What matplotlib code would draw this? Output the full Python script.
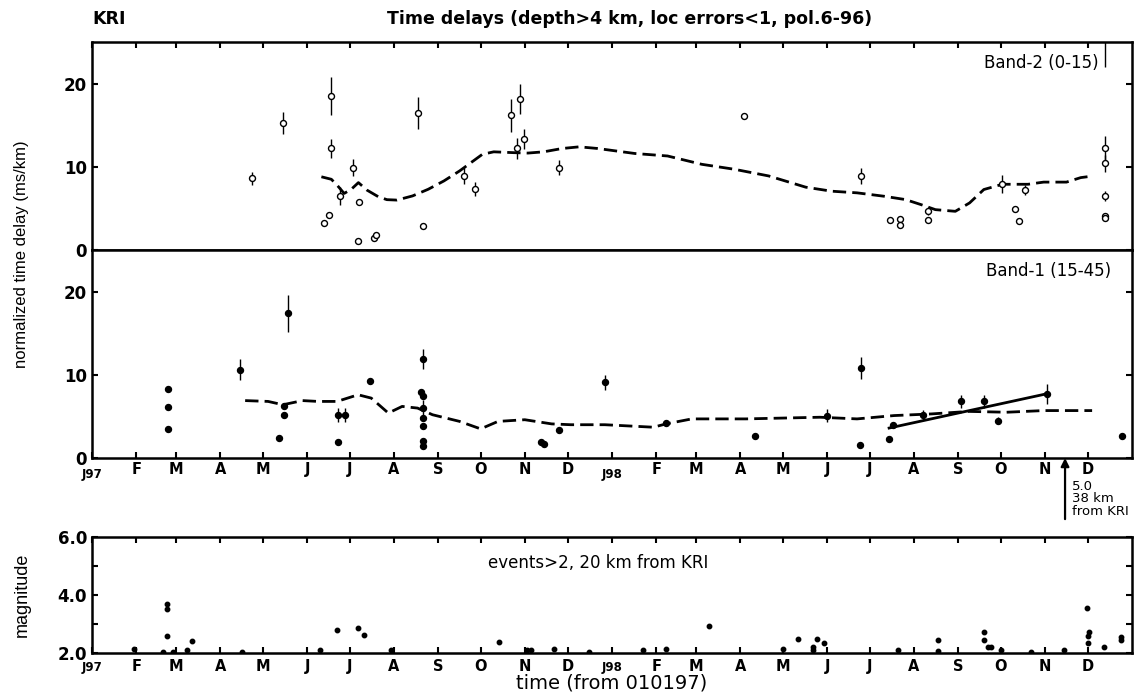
import numpy as np
import matplotlib
matplotlib.use("Agg")
import matplotlib.pyplot as plt
from datetime import date

plt.rcParams['font.family'] = ['DejaVu Sans']

# ---- data (time in days from 01/01/97) ----
# Band-2 (0-15 km) normalized time delays: day, value, error
band2_day = [112, 134, 162.6, 166.7, 167.5, 168, 174, 183, 187, 187.6, 197.6, 199.5,
             229, 232, 261, 269, 294, 298, 300.5, 303, 328, 458, 540, 560, 567, 567,
             587, 587, 639, 648, 651, 655, 711, 711, 711, 711, 711, 711]
band2_val = [8.6, 15.3, 3.2, 4.2, 12.2, 18.5, 6.5, 9.9, 1.1, 5.8, 1.45, 1.8,
             16.5, 2.85, 8.95, 7.35, 16.2, 12.2, 18.1, 13.3, 9.9, 16.1, 8.9, 3.6, 3.7, 3.0,
             4.65, 3.65, 7.9, 4.9, 3.45, 7.2, 12.2, 10.4, 6.5, 4.05, 3.85, 26.5]
band2_err = [0.8, 1.3, 0, 0.3, 1.2, 2.3, 1.1, 1.0, 0, 0, 0, 0.2,
             1.9, 0, 1.0, 0.8, 2.0, 1.3, 1.8, 1.2, 0.9, 0, 1.0, 0, 0, 0.2,
             0.5, 0.3, 1.1, 0, 0.3, 0.6, 1.5, 1.0, 0.6, 0.3, 0.3, 4.5]

# Band-2 running average
band2_avg_day = [161, 168, 172, 177, 182, 187, 193, 201, 207, 214, 225, 236, 247, 258,
                 266, 274, 282, 296, 306, 317, 330, 342, 355, 381, 404, 428, 451, 475,
                 501, 519, 537, 556, 571, 582, 592, 606, 616, 626, 639, 657, 668, 684,
                 694, 703]
band2_avg_val = [8.8, 8.5, 7.8, 6.8, 7.3, 8.1, 7.2, 6.4, 6.05, 6.0, 6.5, 7.3, 8.3, 9.5,
                 10.5, 11.5, 11.8, 11.7, 11.65, 11.8, 12.2, 12.4, 12.2, 11.6, 11.3, 10.3,
                 9.7, 8.9, 7.55, 7.07, 6.87, 6.46, 6.06, 5.45, 4.85, 4.65, 5.66, 7.27,
                 7.9, 7.9, 8.16, 8.16, 8.7, 8.9]

# Band-1 (15-45 km) normalized time delays: day, value, error
band1_day = [53, 53, 53, 104, 131, 135, 135, 137.6, 172.6, 172.6, 177.4, 195,
             231, 232, 232, 232, 232.5, 232, 232, 232, 315, 317, 328, 360, 403,
             465.5, 516, 539.4, 540, 559.5, 562, 583, 610, 626, 636, 670.5, 722.7]
band1_val = [8.3, 6.15, 3.5, 10.6, 2.4, 6.2, 5.15, 17.4, 1.9, 5.15, 5.15, 9.3,
             7.9, 7.5, 6.0, 4.8, 11.85, 3.8, 2.1, 1.4, 1.9, 1.7, 3.4, 9.1, 4.25,
             2.7, 5.1, 1.6, 10.8, 2.25, 4.0, 5.2, 6.8, 6.8, 4.5, 7.75, 2.7]
band1_err = [0, 0, 0, 1.25, 0, 0.3, 0.4, 2.2, 0, 0.8, 0.8, 0,
             0, 0.3, 1.0, 0, 1.2, 0, 0, 0, 0, 0, 0, 0.9, 0,
             0, 0.8, 0, 1.3, 0, 0, 0.6, 0.8, 0.8, 0.4, 1.2, 0]

# Band-1 running average
band1_avg_day = [107.5, 123.6, 134, 147.8, 158.6, 172, 186.8, 196, 208, 217.7, 228.5,
                 239, 258, 272.8, 285, 303.8, 322.6, 336, 360, 394, 403, 421, 459, 511,
                 537, 563, 589.5, 615.6, 642, 668, 702]
band1_avg_val = [6.9, 6.8, 6.4, 6.9, 6.8, 6.8, 7.6, 7.2, 5.4, 6.2, 6.0,
                 5.2, 4.4, 3.5, 4.4, 4.6, 4.1, 4.0, 4.0, 3.7, 4.1, 4.7, 4.7, 4.9,
                 4.7, 5.1, 5.3, 5.6, 5.5, 5.7, 5.7]

# Linear trend through the late-1998 Band-1 delays
trend_day = [559.5, 671]
trend_val = [3.6, 7.75]

# Local events (M>2 within 20 km of KRI)
event_day = [29.6, 52.4, 52.4, 52.4, 50, 57, 67, 70, 105, 160, 172, 187, 191, 210,
             285.5, 305, 308, 324, 349, 387, 403, 433, 485, 495.5, 506, 506, 508.6,
             514, 566, 594, 594, 626, 626, 629, 631, 638, 659, 682, 698.7, 699, 700,
             699, 710, 722, 722]
event_mag = [2.15, 3.68, 3.52, 2.6, 2.05, 2.05, 2.1, 2.4, 2.05, 2.1, 2.8, 2.86, 2.63, 2.1,
             2.38, 2.1, 2.1, 2.15, 2.05, 2.1, 2.15, 2.92, 2.15, 2.5, 2.2, 2.1, 2.47,
             2.35, 2.1, 2.44, 2.07, 2.72, 2.44, 2.22, 2.2, 2.1, 2.03, 2.1, 3.55, 2.6, 2.72,
             2.35, 2.22, 2.55, 2.44]

# Large regional event (M5.0, 38 km from KRI)
big_event_day = 683

month_labels = ['J97', 'F', 'M', 'A', 'M', 'J', 'J', 'A', 'S', 'O', 'N', 'D',
                'J98', 'F', 'M', 'A', 'M', 'J', 'J', 'A', 'S', 'O', 'N', 'D']

# ---- figure layout ----
W, H = 1143, 693
fig = plt.figure(figsize=(W / 100, H / 100), dpi=100)


def box(x0, y0, x1, y1):
    return [x0 / W, 1 - y1 / H, (x1 - x0) / W, (y1 - y0) / H]


ax_top = fig.add_axes(box(92, 42, 1132, 250))
ax_mid = fig.add_axes(box(92, 250, 1132, 458))
ax_mag = fig.add_axes(box(92, 537, 1132, 653))

t0 = date(1997, 1, 1)
month_days = [(date(y, m, 1) - t0).days for y in (1997, 1998) for m in range(1, 13)]

for ax in (ax_top, ax_mid, ax_mag):
    ax.set_xlim(0, 730)
    for s in ax.spines.values():
        s.set_linewidth(1.8)
    ax.tick_params(direction='in', length=4, width=1.5, labelsize=12)
    ax.set_xticks(month_days)

tick_font = dict(fontweight='bold')

# top panel
ax_top.set_ylim(0, 25)
ax_top.tick_params(axis='x', top=True, bottom=False, labeltop=False, labelbottom=False)
ax_top.tick_params(axis='y', left=True, right=True)
ax_top.set_yticks([0, 10, 20])
ax_top.set_yticklabels(['0', '10', '20'], **tick_font)

# middle panel
ax_mid.set_ylim(0, 25)
ax_mid.tick_params(axis='x', top=False, bottom=True, pad=3)
ax_mid.tick_params(axis='y', left=True, right=True)
ax_mid.set_yticks([0, 10, 20])
ax_mid.set_yticklabels(['0', '10', '20'], **tick_font)
ax_mid.set_xticklabels(month_labels, fontsize=10.5, **tick_font)

# magnitude panel
ax_mag.set_ylim(2, 6)
ax_mag.tick_params(axis='x', top=True, bottom=True, pad=4)
ax_mag.tick_params(axis='y', left=True, right=True)
ax_mag.set_yticks([2, 3, 4, 5, 6])
ax_mag.set_yticklabels(['2.0', '', '4.0', '', '6.0'], **tick_font)
ax_mag.set_xticklabels(month_labels, fontsize=10.5, **tick_font)

# year labels are set smaller and slightly lower than the month initials
for ax in (ax_mid, ax_mag):
    for lab in ax.get_xticklabels():
        if lab.get_text() in ('J97', 'J98'):
            lab.set_fontsize(8.5)
            lab.set_y(-0.027 if ax is ax_mid else -0.02)

dash = (0, (4.8, 2.2))


def draw_delays(ax, d, v, e, filled):
    d, v, e = np.asarray(d), np.asarray(v), np.asarray(e)
    m = e > 0
    ax.errorbar(d[m], v[m], yerr=e[m], fmt='none', ecolor='black', elinewidth=1.0)
    ax.plot(d, v, 'o', ms=4.3, mec='black', mew=1.0,
            mfc='black' if filled else 'white', zorder=3)


draw_delays(ax_top, band2_day, band2_val, band2_err, filled=False)
ax_top.plot(band2_avg_day, band2_avg_val, color='black', lw=2.0, linestyle=dash)

draw_delays(ax_mid, band1_day, band1_val, band1_err, filled=True)
ax_mid.plot(band1_avg_day, band1_avg_val, color='black', lw=2.0, linestyle=dash)
ax_mid.plot(trend_day, trend_val, color='black', lw=2.0)

ax_mag.plot(event_day, event_mag, 'o', ms=3.2, color='black')

# arrow marking the M5.0 event
ax_mid.annotate('', xy=(big_event_day, 0), xytext=(0, -44), textcoords='offset points',
                arrowprops=dict(arrowstyle='-|>', color='black', lw=1.6,
                                mutation_scale=12, shrinkA=0, shrinkB=0),
                annotation_clip=False)
ax_mid.annotate('5.0\n38 km\nfrom KRI', xy=(big_event_day, 0), xytext=(5, -15.5),
                textcoords='offset points', ha='left', va='top', fontsize=9.5,
                linespacing=0.98, annotation_clip=False)

# panel labels
ax_top.text(0.968, 0.9, 'Band-2 (0-15)', transform=ax_top.transAxes, ha='right',
            va='center', fontsize=12)
ax_mid.text(0.98, 0.9, 'Band-1 (15-45)', transform=ax_mid.transAxes, ha='right',
            va='center', fontsize=12)
ax_mag.text(0.487, 0.78, 'events>2, 20 km from KRI', transform=ax_mag.transAxes,
            ha='center', va='center', fontsize=12)

# titles and axis labels
fig.text(92 / W, 1 - 19 / H, 'KRI', fontsize=12.5, fontweight='bold', va='center')
fig.text(630 / W, 1 - 19 / H, 'Time delays (depth>4 km, loc errors<1, pol.6-96)',
         fontsize=12.5, fontweight='bold', ha='center', va='center')
fig.text(22 / W, 1 - 254 / H, 'normalized time delay (ms/km)', rotation=90,
         fontsize=12, ha='center', va='center', family='Liberation Sans')
fig.text(22 / W, 1 - 595 / H, 'magnitude', rotation=90, fontsize=13,
         ha='center', va='center', family='Liberation Sans')
fig.text(612 / W, 1 - 683 / H, 'time (from 010197)', fontsize=14,
         ha='center', va='center')

fig.savefig('out.png', dpi=100)
